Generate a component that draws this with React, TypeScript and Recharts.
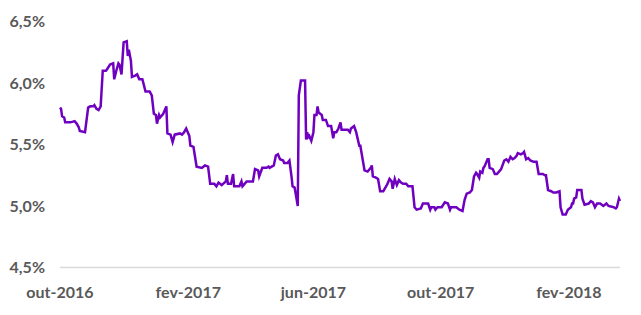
import React from "react";
import { LineChart, Line, XAxis, YAxis } from "recharts";

// Days elapsed since 2016-10-01 for each observation
const dayOffsets: number[] = [
  0, 1, 2, 4, 5, 10, 14, 16, 18, 19, 24, 27, 29, 32, 33, 35, 37, 39, 41, 44,
  45, 48, 51, 52, 54, 56, 57, 59, 61, 64, 65, 66, 68, 69, 72, 74, 76, 79, 82, 86,
  88, 90, 92, 93, 95, 96, 99, 102, 103, 106, 108, 110, 115, 117, 119, 121, 124, 125, 128, 131,
  136, 139, 142, 144, 148, 150, 152, 155, 159, 160, 161, 164, 166, 167, 172, 174, 175, 176, 179, 181,
  185, 187, 190, 191, 194, 198, 200, 201, 205, 207, 209, 211, 214, 215, 218, 220, 222, 223, 225, 228,
  229, 231, 235, 236, 237, 238, 239, 241, 243, 244, 246, 247, 248, 251, 252, 255, 257, 260, 262, 263,
  265, 267, 269, 270, 276, 278, 279, 282, 284, 287, 288, 292, 295, 298, 299, 300, 303, 305, 307, 310,
  312, 314, 316, 318, 319, 321, 323, 325, 327, 329, 332, 334, 338, 340, 342, 346, 348, 353, 355, 356,
  359, 360, 362, 366, 369, 372, 374, 375, 380, 383, 386, 388, 390, 393, 395, 397, 399, 400, 402, 403,
  405, 406, 407, 410, 411, 412, 415, 417, 419, 422, 423, 426, 428, 430, 432, 434, 436, 438, 439, 442,
  444, 445, 447, 449, 451, 454, 457, 459, 463, 465, 466, 468, 471, 473, 476, 479, 480, 482, 485, 487,
  490, 491, 492, 493, 495, 496, 500, 501, 503, 507, 509, 511, 513, 515, 518, 521, 524, 526, 531, 533,
  534, 536, 537,
];

// Rate in %
const rates: number[] = [
  5.80, 5.79, 5.73, 5.72, 5.68, 5.68, 5.69, 5.67, 5.64, 5.61, 5.60, 5.80, 5.81, 5.81, 5.82, 5.79, 5.78, 5.81, 6.10, 6.10,
  6.11, 6.15, 6.16, 6.03, 6.10, 6.16, 6.15, 6.07, 6.33, 6.34, 6.22, 6.27, 6.18, 6.05, 6.06, 6.07, 6.03, 6.03, 5.93, 5.93,
  5.90, 5.75, 5.74, 5.67, 5.74, 5.72, 5.75, 5.81, 5.59, 5.58, 5.52, 5.58, 5.59, 5.58, 5.60, 5.63, 5.57, 5.49, 5.48, 5.32,
  5.31, 5.33, 5.32, 5.18, 5.18, 5.16, 5.19, 5.17, 5.20, 5.25, 5.18, 5.18, 5.26, 5.16, 5.16, 5.20, 5.16, 5.17, 5.20, 5.20,
  5.20, 5.30, 5.29, 5.24, 5.31, 5.31, 5.32, 5.31, 5.33, 5.41, 5.42, 5.38, 5.37, 5.35, 5.35, 5.37, 5.24, 5.16, 5.15, 5.00,
  5.90, 6.02, 6.02, 5.54, 5.60, 5.56, 5.57, 5.53, 5.60, 5.74, 5.74, 5.81, 5.76, 5.74, 5.70, 5.70, 5.65, 5.65, 5.55, 5.60,
  5.60, 5.63, 5.68, 5.62, 5.62, 5.60, 5.63, 5.65, 5.60, 5.49, 5.49, 5.29, 5.28, 5.31, 5.33, 5.24, 5.23, 5.22, 5.12, 5.12,
  5.15, 5.18, 5.22, 5.20, 5.14, 5.22, 5.17, 5.21, 5.19, 5.18, 5.18, 5.16, 5.16, 4.99, 4.97, 4.98, 5.02, 5.02, 4.97, 4.99,
  4.99, 4.97, 4.99, 4.99, 5.03, 5.02, 4.97, 4.99, 4.99, 4.97, 4.96, 5.05, 5.10, 5.11, 5.13, 5.24, 5.27, 5.26, 5.23, 5.28,
  5.27, 5.31, 5.32, 5.38, 5.38, 5.31, 5.30, 5.26, 5.26, 5.29, 5.30, 5.37, 5.38, 5.36, 5.40, 5.38, 5.39, 5.41, 5.43, 5.42,
  5.43, 5.44, 5.38, 5.39, 5.37, 5.36, 5.36, 5.26, 5.26, 5.25, 5.25, 5.13, 5.12, 5.11, 5.11, 5.12, 4.99, 4.93, 4.93, 4.97,
  4.99, 5.02, 5.02, 5.06, 5.07, 5.13, 5.13, 5.06, 5.01, 5.02, 5.04, 5.03, 4.99, 5.02, 5.02, 5.00, 5.02, 5.00, 4.99, 4.98,
  4.99, 5.06, 5.04,
];

const xTickDays: number[] = [0, 123, 243, 365, 488];
const xTickLabels: string[] = ["out-2016", "fev-2017", "jun-2017", "out-2017", "fev-2018"];
const yTicks: number[] = [4.5, 5.0, 5.5, 6.0, 6.5];

const data = dayOffsets.map((d, i) => ({ day: d, rate: rates[i] }));

const tickStyle = {
  fontFamily: "Lato, 'Open Sans', sans-serif",
  fontWeight: 700,
  fontSize: 16,
  fill: "#595959",
};

export default function App() {
  return (
    <LineChart
      width={633}
      height={307}
      data={data}
      margin={{ top: 13.5, right: 21, bottom: 0, left: 0 }}
    >
      <XAxis
        type="number"
        dataKey="day"
        domain={[0, 537]}
        ticks={xTickDays}
        interval={0}
        tickFormatter={(v: number) => xTickLabels[xTickDays.indexOf(v)] ?? ""}
        axisLine={{ stroke: "#D9D9D9", strokeWidth: 1.5 }}
        tickLine={false}
        tickSize={0}
        tickMargin={19}
        height={47.5}
        tick={tickStyle}
      />
      <YAxis
        type="number"
        domain={[4.5, 6.5]}
        ticks={yTicks}
        interval={0}
        tickFormatter={(v: number) => v.toFixed(1).replace(".", ",") + "%"}
        axisLine={false}
        tickLine={false}
        tickSize={0}
        tickMargin={15}
        width={52}
        tick={tickStyle}
      />
      <Line
        type="linear"
        dataKey="rate"
        stroke="#7000C0"
        strokeWidth={2.5}
        dot={false}
        isAnimationActive={false}
      />
    </LineChart>
  );
}
